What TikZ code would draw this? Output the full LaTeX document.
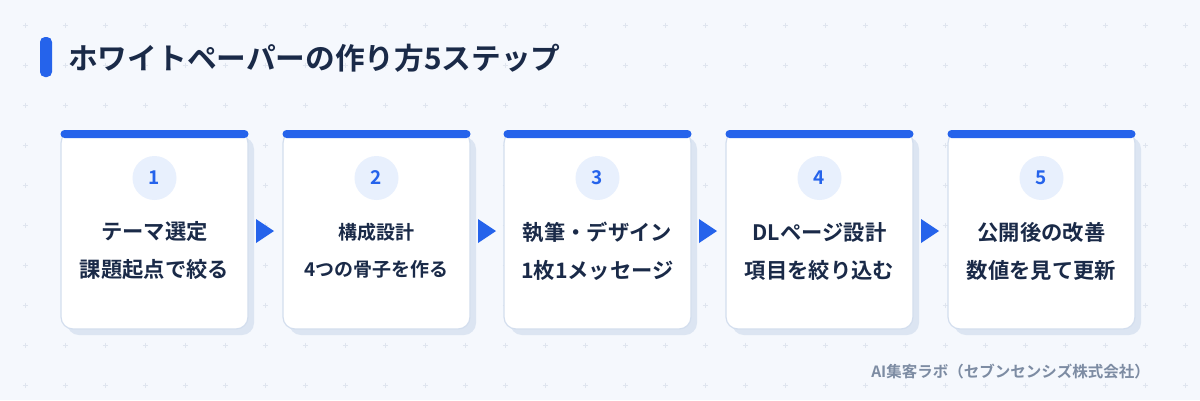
\documentclass[tikz,border=0pt]{standalone}
\usepackage{fontspec}
\setmainfont{Noto Sans CJK JP}[BoldFont={Noto Sans CJK JP Bold}]
\usepackage{xcolor}
\usepackage{tikz}

\definecolor{paperbg}{HTML}{F5F8FD}
\definecolor{gridmark}{HTML}{DFE5EF}
\definecolor{stepblue}{HTML}{2563EB}
\definecolor{cardline}{HTML}{D3DEEE}
\definecolor{cardshade}{HTML}{DCE5F2}
\definecolor{dotfill}{HTML}{E8F0FD}
\definecolor{inkdark}{HTML}{1A2A48}
\definecolor{footgray}{HTML}{7D8CA3}

\begin{document}
\begin{tikzpicture}[x=1pt,y=-1pt,
  numdot/.style={circle, fill=dotfill, minimum size=44pt, inner sep=0pt,
    text=stepblue, font=\fontsize{19}{19}\selectfont\bfseries},
  steptext/.style={align=center, text=inkdark, inner sep=0pt,
    font=\fontsize{21.3}{38}\selectfont\bfseries}]

\useasboundingbox (0,0) rectangle (1200,400);
\fill[paperbg] (0,0) rectangle (1200,400);

\foreach \x in {25,65,...,1185}{
	\foreach \y in {25,65,...,385}{
		\draw[gridmark, line width=0.7] (\x-2.5,\y)--(\x+2.5,\y) (\x,\y-2.5)--(\x,\y+2.5);
	}
}

% title
\fill[stepblue, rounded corners=5] (40,37) rectangle (52,77);
\node[anchor=west, inner sep=0pt, text=inkdark, font=\fontsize{29.7}{29.7}\selectfont\bfseries] (title) at (68,58) {ホワイトペーパーの作り方5ステップ};

\def \b {61}
\fill[cardshade, rounded corners=12] (\b+6,137) rectangle (\b+193,335);
\draw[fill=white, draw=cardline, line width=1.2, rounded corners=12] (\b,131) rectangle (\b+187,329);
\fill[stepblue, rounded corners=4] (\b-0.5,130) rectangle (\b+187.5,138);
\node[numdot] (n1) at (\b+93.5,178) {1};
\node[steptext] (t1) at (\b+93.5,251) {テーマ選定\\課題起点で絞る};
\fill[stepblue] (\b+195,219)--(\b+213,231)--(\b+195,243)--cycle;

\def \b {283}
\fill[cardshade, rounded corners=12] (\b+6,137) rectangle (\b+193,335);
\draw[fill=white, draw=cardline, line width=1.2, rounded corners=12] (\b,131) rectangle (\b+187,329);
\fill[stepblue, rounded corners=4] (\b-0.5,130) rectangle (\b+187.5,138);
\node[numdot] (n2) at (\b+93.5,178) {2};
\node[steptext, font=\fontsize{19}{37}\selectfont\bfseries] (t2) at (\b+93.5,251) {構成設計\\4つの骨子を作る};
\fill[stepblue] (\b+195,219)--(\b+213,231)--(\b+195,243)--cycle;

\def \b {504}
\fill[cardshade, rounded corners=12] (\b+6,137) rectangle (\b+193,335);
\draw[fill=white, draw=cardline, line width=1.2, rounded corners=12] (\b,131) rectangle (\b+187,329);
\fill[stepblue, rounded corners=4] (\b-0.5,130) rectangle (\b+187.5,138);
\node[numdot] (n3) at (\b+93.5,178) {3};
\node[steptext] (t3) at (\b+93.5,251) {執筆・デザイン\\1枚1メッセージ};
\fill[stepblue] (\b+195,219)--(\b+213,231)--(\b+195,243)--cycle;

\def \b {726}
\fill[cardshade, rounded corners=12] (\b+6,137) rectangle (\b+193,335);
\draw[fill=white, draw=cardline, line width=1.2, rounded corners=12] (\b,131) rectangle (\b+187,329);
\fill[stepblue, rounded corners=4] (\b-0.5,130) rectangle (\b+187.5,138);
\node[numdot] (n4) at (\b+93.5,178) {4};
\node[steptext] (t4) at (\b+93.5,251) {DLページ設計\\項目を絞り込む};
\fill[stepblue] (\b+195,219)--(\b+213,231)--(\b+195,243)--cycle;

\def \b {948}
\fill[cardshade, rounded corners=12] (\b+6,137) rectangle (\b+193,335);
\draw[fill=white, draw=cardline, line width=1.2, rounded corners=12] (\b,131) rectangle (\b+187,329);
\fill[stepblue, rounded corners=4] (\b-0.5,130) rectangle (\b+187.5,138);
\node[numdot] (n5) at (\b+93.5,178) {5};
\node[steptext] (t5) at (\b+93.5,251) {公開後の改善\\数値を見て更新};

% footer
\node[anchor=east, inner sep=0pt, text=footgray, font=\fontsize{15.5}{15.5}\selectfont\bfseries] (credit) at (1150,372) {AI集客ラボ（セブンセンシズ株式会社）};

\end{tikzpicture}
\end{document}
